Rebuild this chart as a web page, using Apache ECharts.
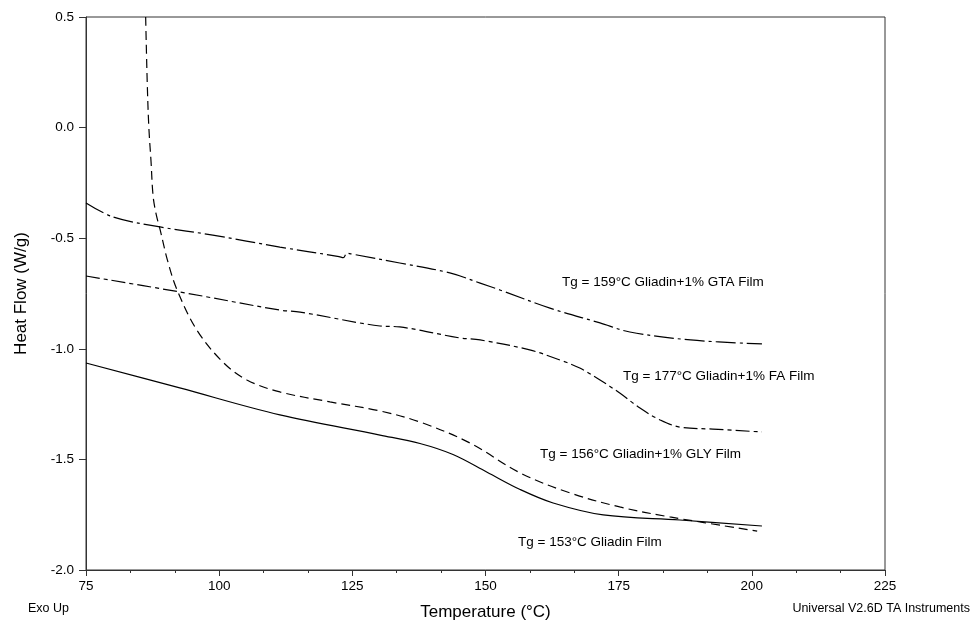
<!DOCTYPE html>
<html>
<head>
<meta charset="utf-8">
<script src="https://cdn.jsdelivr.net/npm/echarts@6/dist/echarts.min.js"></script>
<style>
  html, body { margin: 0; padding: 0; background: #fff; }
  #main { width: 972px; height: 620px; }
</style>
</head>
<body>
<div id="main"></div>
<script>
// Gliadin film (solid)
var tempGliadin = [75, 92.6, 111.4, 130.2, 137.7, 143.9, 150.3, 156.5, 162.7, 172.1, 186.5, 201.9];
var flowGliadin = [-1.064, -1.177, -1.299, -1.390, -1.428, -1.478, -1.558, -1.636, -1.697, -1.751, -1.774, -1.801];

// Gliadin + 1% GLY (dashed)
var tempGLY = [86.2, 86.5, 86.8, 87.2, 87.6, 88.2, 88.9, 90.3, 92.1, 95.8, 100.7, 105.2, 111.4, 120.8, 130.2, 137.7, 147.1, 156.5, 165.9, 175.2, 184.6, 201.0];
var flowGLY = [0.5, 0.2, 0.0, -0.15, -0.310, -0.395, -0.460, -0.600, -0.734, -0.915, -1.060, -1.141, -1.195, -1.240, -1.281, -1.331, -1.426, -1.561, -1.652, -1.715, -1.760, -1.824];

// Gliadin + 1% GTA (long dash-dot)
var tempGTA = [75, 80.1, 88.9, 98.8, 111.4, 122.5, 123.3, 124.0, 125.0, 133.9, 143.3, 149.0, 152.7, 162.1, 171.5, 177.1, 188.5, 201.9];
var flowGTA = [-0.341, -0.404, -0.449, -0.486, -0.540, -0.583, -0.588, -0.568, -0.572, -0.612, -0.657, -0.703, -0.734, -0.816, -0.883, -0.924, -0.960, -0.978];

// Gliadin + 1% FA (dash-dot)
var tempFA = [75, 92.6, 111.4, 115.2, 130.2, 133.9, 145.2, 149.0, 158.3, 164.0, 167.7, 171.5, 175.2, 179.0, 182.8, 186.5, 192.7, 201.9];
var flowFA = [-0.671, -0.743, -0.825, -0.834, -0.897, -0.901, -0.951, -0.960, -1.005, -1.051, -1.087, -1.141, -1.200, -1.268, -1.322, -1.354, -1.363, -1.376];

var annotations = [
    {text: 'Tg = 159°C Gliadin+1% GTA Film', left: 562, top: 275},
    {text: 'Tg = 177°C Gliadin+1% FA Film', left: 623, top: 369},
    {text: 'Tg = 156°C Gliadin+1% GLY Film', left: 540, top: 447},
    {text: 'Tg = 153°C Gliadin Film', left: 518, top: 535}
];

function pairs(xs, ys) {
    var out = [];
    for (var i = 0; i < xs.length; i++) {
        out.push([xs[i], ys[i]]);
    }
    return out;
}

function curve(name, xs, ys, dash) {
    return {
        name: name,
        type: 'line',
        data: pairs(xs, ys),
        showSymbol: false,
        smooth: 0.35,
        lineStyle: {color: '#000', width: 1.2, type: dash}
    };
}

var font = 'Liberation Sans, Arial, sans-serif';

var graphics = [];
for (var i = 0; i < annotations.length; i++) {
    graphics.push({
        type: 'text', left: annotations[i].left, top: annotations[i].top,
        style: {text: annotations[i].text, font: '13.5px ' + font, fill: '#000'}
    });
}
graphics.push({type: 'text', left: 28, top: 602, style: {text: 'Exo Up', font: '12.5px ' + font, fill: '#000'}});
graphics.push({type: 'text', right: 2, top: 602, style: {text: 'Universal V2.6D TA Instruments', font: '12.5px ' + font, fill: '#000'}});

var chart = echarts.init(document.getElementById('main'));
chart.setOption({
    animation: false,
    backgroundColor: '#fff',
    grid: {
        left: 86, top: 17, right: 87, bottom: 50, outerBoundsMode: 'none',
        show: true, borderColor: '#333', borderWidth: 1
    },
    xAxis: {
        type: 'value', min: 75, max: 225, interval: 25,
        name: 'Temperature (°C)', nameLocation: 'middle', nameGap: 34,
        nameTextStyle: {fontFamily: font, fontSize: 17, color: '#000'},
        axisLine: {onZero: false, lineStyle: {color: '#333', width: 1}},
        axisTick: {length: 6, lineStyle: {color: '#333'}},
        minorTick: {show: true, splitNumber: 3, length: 3, lineStyle: {color: '#333'}},
        axisLabel: {fontFamily: font, fontSize: 13.5, color: '#000', margin: 9},
        splitLine: {show: false}
    },
    yAxis: {
        type: 'value', min: -2, max: 0.5, interval: 0.5,
        name: 'Heat Flow (W/g)', nameLocation: 'middle', nameGap: 56,
        nameTextStyle: {fontFamily: font, fontSize: 17, color: '#000'},
        axisLine: {show: true, onZero: false, lineStyle: {color: '#333', width: 1}},
        axisTick: {show: true, length: 7, lineStyle: {color: '#333'}},
        axisLabel: {
            fontFamily: font, fontSize: 13.5, color: '#000', margin: 12,
            formatter: function (v) { return v.toFixed(1); }
        },
        splitLine: {show: false}
    },
    series: [
        curve('Gliadin Film', tempGliadin, flowGliadin, 'solid'),
        curve('Gliadin+1% GLY Film', tempGLY, flowGLY, [9, 5]),
        curve('Gliadin+1% GTA Film', tempGTA, flowGTA, [20, 4, 3, 4]),
        curve('Gliadin+1% FA Film', tempFA, flowFA, [14, 4, 4, 4])
    ],
    graphic: graphics
});
</script>
</body>
</html>
